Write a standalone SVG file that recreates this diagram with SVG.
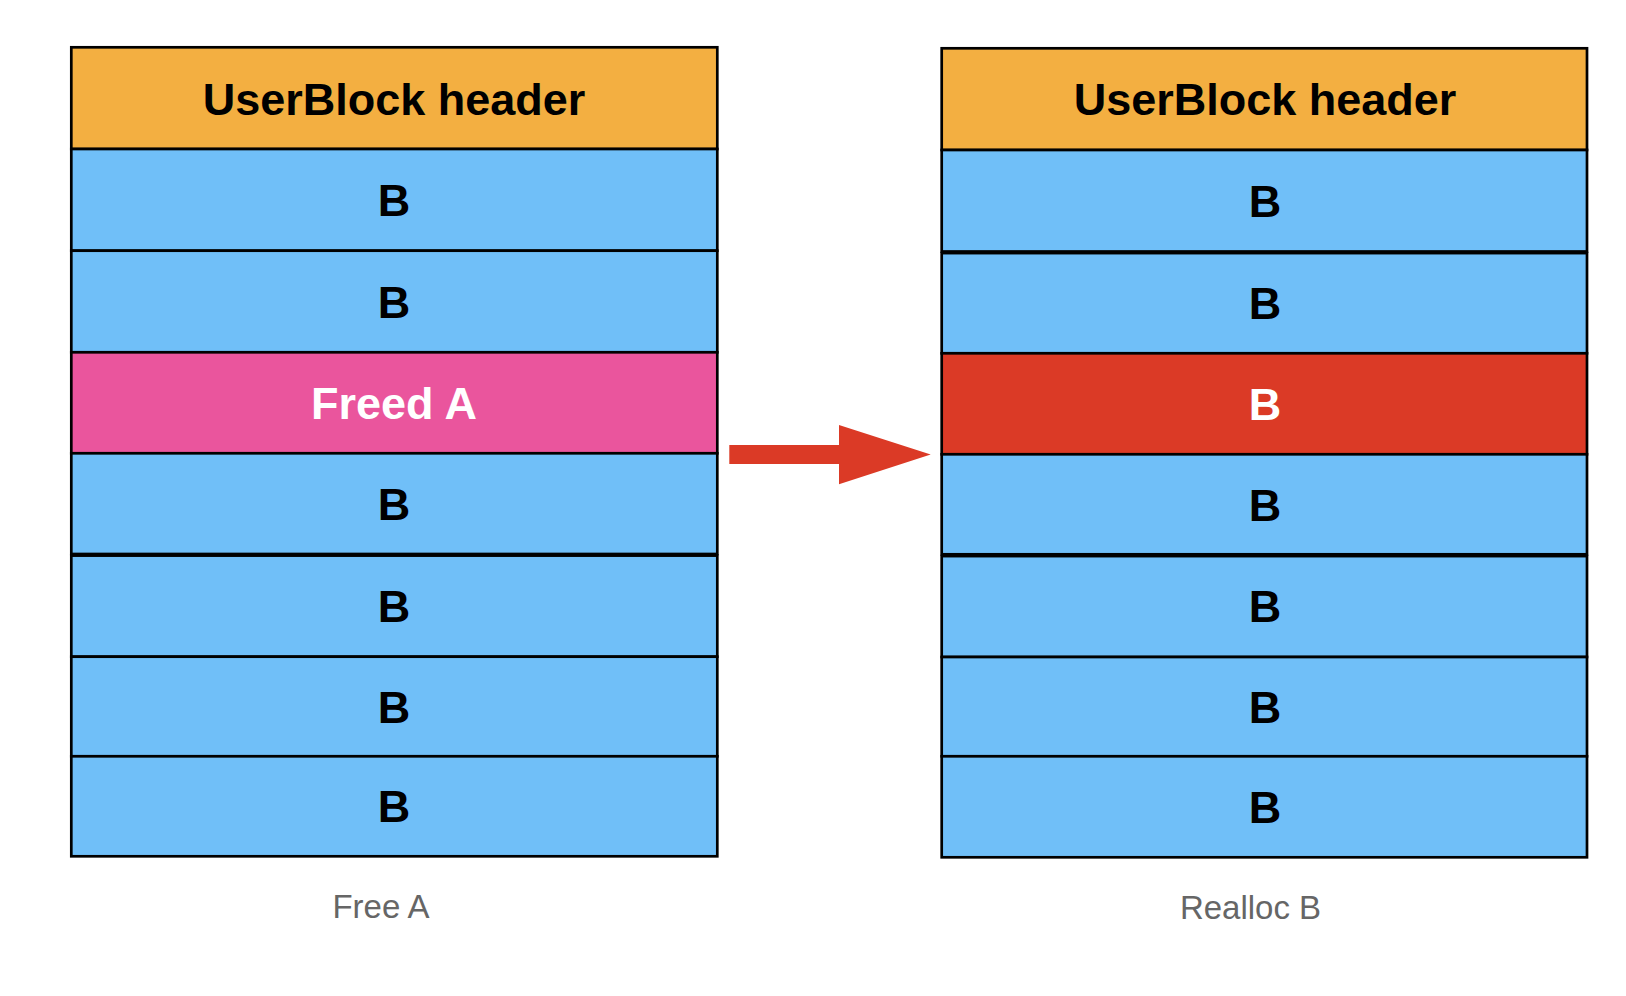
<svg xmlns="http://www.w3.org/2000/svg" width="1626" height="996" viewBox="0 0 1626 996">
<style>
.cell{stroke:#000;stroke-width:2.7}
.hdr{fill:#F3AF41}
.blu{fill:#70BFF8}
.pnk{fill:#EA559D}
.red{fill:#DB3A26}
.t{font-family:"Liberation Sans",Arial,Helvetica,sans-serif;font-weight:bold;font-size:45px;text-anchor:middle;fill:#000}
.w{fill:#fff}
.cap{font-family:"Liberation Sans",Arial,Helvetica,sans-serif;font-size:33px;text-anchor:middle;fill:#666}
</style>
<rect width="1626" height="996" fill="#fff"/>
<g id="left-stack">
  <g id="l0"><rect class="cell hdr" x="71.3" y="47.3" width="646" height="101.7"/><text class="t" x="394" y="114.5">UserBlock header</text></g>
  <g id="l1"><rect class="cell blu" x="71.3" y="149" width="646" height="101.7"/><text class="t" x="394" y="216">B</text></g>
  <g id="l2"><rect class="cell blu" x="71.3" y="250.7" width="646" height="101.6"/><text class="t" x="394" y="317.6">B</text></g>
  <g id="l3"><rect class="cell pnk" x="71.3" y="352.3" width="646" height="101"/><text class="t w" x="394" y="419">Freed A</text></g>
  <g id="l4"><rect class="cell blu" x="71.3" y="453.3" width="646" height="100.7"/><text class="t" x="394" y="520">B</text></g>
  <g id="l5"><rect class="cell blu" x="71.3" y="555.6" width="646" height="101.1"/><text class="t" x="394" y="622">B</text></g>
  <g id="l6"><rect class="cell blu" x="71.3" y="656.7" width="646" height="99.6"/><text class="t" x="394" y="722.6">B</text></g>
  <g id="l7"><rect class="cell blu" x="71.3" y="756.3" width="646" height="100"/><text class="t" x="394" y="822.4">B</text></g>
</g>
<g id="right-stack">
  <g id="r0"><rect class="cell hdr" x="941.7" y="48.3" width="645.3" height="101.7"/><text class="t" x="1265" y="115.4">UserBlock header</text></g>
  <g id="r1"><rect class="cell blu" x="941.7" y="150" width="645.3" height="101.5"/><text class="t" x="1265" y="217">B</text></g>
  <g id="r2"><rect class="cell blu" x="941.7" y="253.1" width="645.3" height="100.2"/><text class="t" x="1265" y="319">B</text></g>
  <g id="r3"><rect class="cell red" x="941.7" y="353.3" width="645.3" height="101"/><text class="t w" x="1265" y="420">B</text></g>
  <g id="r4"><rect class="cell blu" x="941.7" y="454.3" width="645.3" height="100"/><text class="t" x="1265" y="520.8">B</text></g>
  <g id="r5"><rect class="cell blu" x="941.7" y="556.1" width="645.3" height="100.9"/><text class="t" x="1265" y="622.4">B</text></g>
  <g id="r6"><rect class="cell blu" x="941.7" y="657" width="645.3" height="99.3"/><text class="t" x="1265" y="722.8">B</text></g>
  <g id="r7"><rect class="cell blu" x="941.7" y="756.3" width="645.3" height="101"/><text class="t" x="1265" y="822.9">B</text></g>
</g>
<g id="captions">
  <text class="cap" x="381" y="918.3">Free A</text>
  <text class="cap" x="1250.5" y="918.7">Realloc B</text>
</g>
<g id="connectors">
  <polygon fill="#DB3A26" points="729.3,445 839,445 839,425 930.7,454.5 839,484.3 839,464 729.3,464"/>
</g>
</svg>
